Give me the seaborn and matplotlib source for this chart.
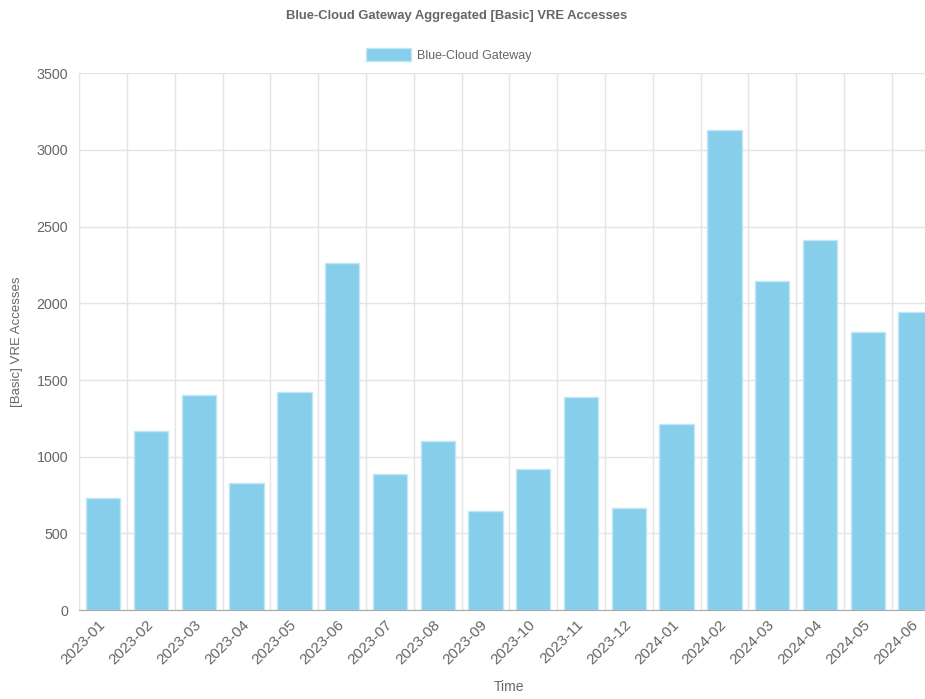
import matplotlib
matplotlib.use("Agg")
import matplotlib.pyplot as plt
import seaborn as sns
import numpy as np

# data
months = ["2023-01", "2023-02", "2023-03", "2023-04", "2023-05", "2023-06",
          "2023-07", "2023-08", "2023-09", "2023-10", "2023-11", "2023-12",
          "2024-01", "2024-02", "2024-03", "2024-04", "2024-05", "2024-06"]
accesses = [732, 1165, 1404, 830, 1419, 2264,
            889, 1104, 647, 917, 1386, 663,
            1210, 3132, 2145, 2414, 1812, 1943]
series_name = "Blue-Cloud Gateway"

sns.set_style("white")
plt.rcParams["font.family"] = ["Liberation Sans", "DejaVu Sans"]

TEXT = "#666666"
GRID = "#e4e4e4"

fig = plt.figure(figsize=(9.25, 6.99), dpi=100)
# the original canvas is cropped on the right, so the axes run past the edge
ax = fig.add_axes([0.0857, 0.1273, 0.930, 0.7678])

sns.barplot(x=months, y=accesses, color="#87CEEB", saturation=1, width=0.72,
            edgecolor="#c2e6f5", linewidth=1, label=series_name, ax=ax, zorder=3)

ax.set_xlim(-0.5, len(months) - 0.5)
ax.set_ylim(0, 3500)
ax.set_yticks(np.arange(0, 3501, 500))

# vertical grid sits between categories
ax.set_xticks(np.arange(-0.5, len(months), 1), minor=True)
ax.grid(True, axis="x", which="minor", color=GRID, linewidth=1, zorder=0)
ax.grid(True, axis="y", which="major", color=GRID, linewidth=1, zorder=0)
ax.grid(False, axis="x", which="major")

ax.tick_params(axis="x", which="major", length=0, pad=9, labelsize=11, labelcolor=TEXT)
ax.tick_params(axis="x", which="minor", length=9, color=GRID, width=1)
ax.tick_params(axis="y", length=6, color=GRID, width=1, pad=2, labelsize=10.3, labelcolor=TEXT)
for lab in ax.get_xticklabels():
    lab.set_rotation(45)
    lab.set_ha("right")
    lab.set_va("center")
    lab.set_rotation_mode("anchor")

for s in ["top", "right"]:
    ax.spines[s].set_visible(False)
ax.spines["left"].set_color(GRID)
ax.spines["bottom"].set_color("#a8a8a8")
ax.spines["bottom"].set_zorder(4)

ax.set_xlabel("Time", fontsize=10, color=TEXT, labelpad=9)
ax.set_ylabel("[Basic] VRE Accesses", fontsize=9.5, color=TEXT, labelpad=10)

fig.text(0.494, 0.977, "Blue-Cloud Gateway Aggregated [Basic] VRE Accesses",
         ha="center", va="center", fontsize=9.4, fontweight="bold", color=TEXT)

ax.legend(loc="center", bbox_to_anchor=(0.485, 0.921), bbox_transform=fig.transFigure,
          frameon=False, fontsize=9, labelcolor=TEXT, handlelength=3.6,
          handleheight=1.2, handletextpad=0.5)

fig.savefig("out.png", dpi=100)
